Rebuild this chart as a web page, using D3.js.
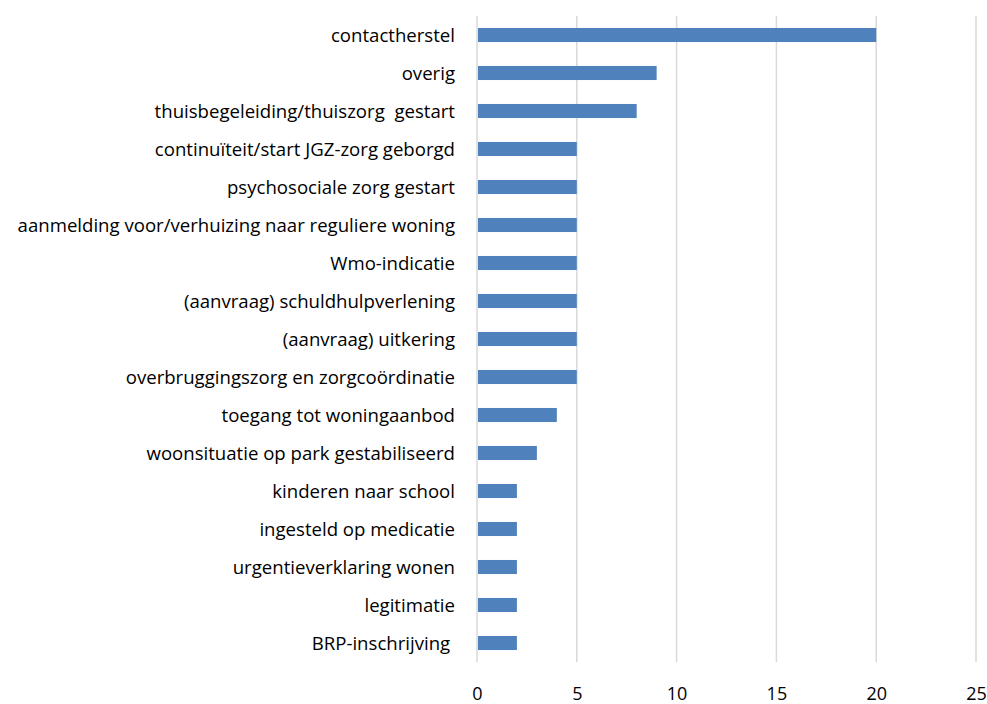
<!DOCTYPE html>
<html>
<head>
<meta charset="utf-8">
<script src="https://cdn.jsdelivr.net/npm/d3@7"></script>
<style>
  body { margin: 0; background: #fff; }
  text { font-family: "Open Sans", Lato, sans-serif; fill: #000; white-space: pre; }
</style>
</head>
<body>
<div class="canvas-container"></div>
<script>
var categories = [
    "contactherstel",
    "overig",
    "thuisbegeleiding/thuiszorg  gestart",
    "continuïteit/start JGZ-zorg geborgd",
    "psychosociale zorg gestart",
    "aanmelding voor/verhuizing naar reguliere woning",
    "Wmo-indicatie",
    "(aanvraag) schuldhulpverlening",
    "(aanvraag) uitkering",
    "overbruggingszorg en zorgcoördinatie",
    "toegang tot woningaanbod",
    "woonsituatie op park gestabiliseerd",
    "kinderen naar school",
    "ingesteld op medicatie",
    "urgentieverklaring wonen",
    "legitimatie",
    "BRP-inschrijving "
];
var values = [20, 9, 8, 5, 5, 5, 5, 5, 5, 5, 4, 3, 2, 2, 2, 2, 2];
var ticks = [0, 5, 10, 15, 20, 25];

(function() {
    "use strict";

    var width = 987, height = 704;
    var mLeft = 477, mRight = 976, mTop = 16, mBottom = 662;

    var svg = d3.select("div.canvas-container")
        .append("svg")
        .attr("width", width)
        .attr("height", height);

    var x = d3.scaleLinear().domain([0, 25]).range([mLeft, mRight]);
    var y = d3.scaleBand().domain(categories).range([mTop, mBottom])
        .paddingInner(0.63).paddingOuter(0.315);

    // gridlines
    svg.append("g")
        .selectAll("line")
        .data(ticks)
        .enter()
        .append("line")
        .attr("x1", function(d) { return x(d); })
        .attr("x2", function(d) { return x(d); })
        .attr("y1", mTop)
        .attr("y2", mBottom)
        .attr("stroke", "#d9d9d9")
        .attr("stroke-width", 1.5);

    // bars
    svg.append("g")
        .selectAll("rect")
        .data(values)
        .enter()
        .append("rect")
        .attr("x", x(0) + 1)
        .attr("y", function(d, i) { return y(categories[i]); })
        .attr("width", function(d) { return x(d) - x(0) - 1; })
        .attr("height", y.bandwidth())
        .attr("fill", "#4f81bd");

    // category labels
    svg.append("g")
        .selectAll("text")
        .data(categories)
        .enter()
        .append("text")
        .attr("x", mLeft - 22)
        .attr("y", function(d) { return y(d) + y.bandwidth() / 2; })
        .attr("dy", "0.35em")
        .attr("text-anchor", "end")
        .style("font-size", "18.6px")
        .text(function(d) { return d; });

    // x axis labels
    var axis = d3.axisBottom(x).tickValues(ticks).tickSize(0).tickPadding(0);
    var ax = svg.append("g")
        .attr("transform", "translate(0,694)")
        .call(axis);
    ax.select(".domain").remove();
    ax.selectAll("text")
        .attr("y", 0)
        .attr("dy", "0.35em")
        .style("font-size", "18px")
        .style("font-family", "'Open Sans', Lato, sans-serif")
        .attr("fill", "#000");
})();
</script>
</body>
</html>
